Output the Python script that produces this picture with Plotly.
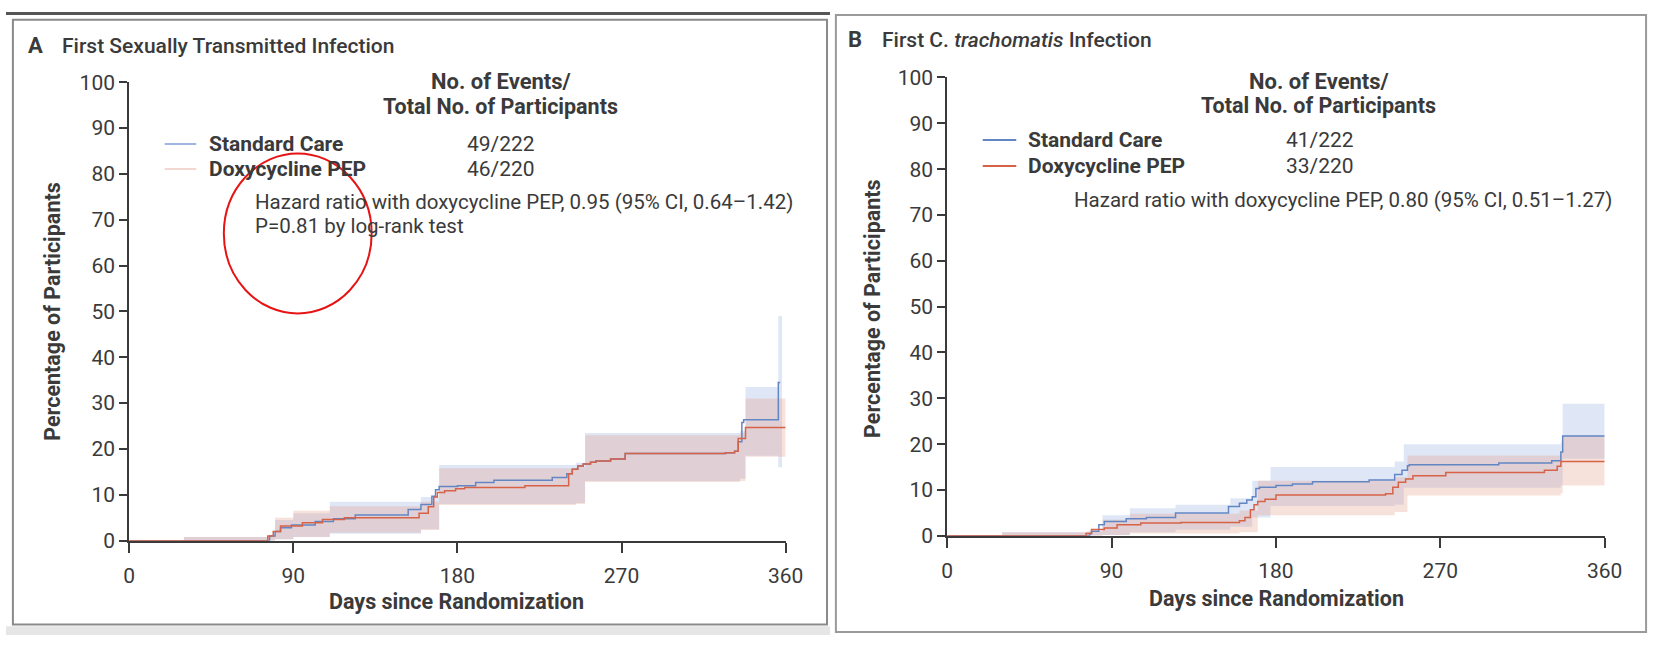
import plotly.graph_objects as go

W, H = 1669, 647

# ---------------- Panel A: first sexually transmitted infection ----------------
a_sc_days = [0, 77, 80, 83, 89, 102, 112, 124, 153, 160, 166, 168, 170, 180, 190, 200, 232, 240,
             243, 246, 249, 253, 256, 264, 272, 327, 332, 334, 336, 337, 356, 357]
a_sc_pct = [0, 1.0, 2.0, 2.8, 3.4, 4.2, 4.8, 5.6, 6.8, 7.9, 9.7, 11.1, 11.8, 12.0, 12.7, 13.2, 13.8, 14.6,
            15.6, 16.3, 16.7, 17.1, 17.4, 17.8, 19.0, 19.2, 19.5, 21.6, 25.8, 26.4, 34.5, 34.5]
a_dx_days = [0, 76, 79, 83, 95, 106, 118, 159, 164, 167, 169, 173, 179, 184, 217, 241, 243, 246,
             249, 253, 256, 264, 272, 327, 332, 334, 338, 360]
a_dx_pct = [0, 1.0, 2.0, 3.2, 3.9, 4.6, 5.0, 6.0, 7.4, 9.5, 10.5, 10.9, 11.3, 11.6, 12.0, 14.6, 15.6, 16.3,
            16.7, 17.1, 17.4, 17.8, 19.0, 19.2, 19.5, 22.3, 24.7, 24.7]

a_sc_band_days = [30, 76, 80, 90, 110, 160, 170, 245, 250, 335, 338, 356, 358]
a_sc_lo = [0, 0, 0.3, 0.8, 1.5, 2.5, 8.0, 8.2, 13.0, 13.5, 18.5, 16.0, 16.0]
a_sc_hi = [0.8, 1.0, 4.5, 6.0, 8.5, 9.5, 16.5, 17.0, 23.5, 24.0, 33.5, 49.0, 49.0]
a_dx_band_days = [30, 76, 80, 90, 110, 160, 170, 245, 250, 335, 338, 360]
a_dx_lo = [0, 0, 0.3, 0.8, 1.7, 2.3, 7.8, 8.0, 12.8, 13.0, 18.3, 18.3]
a_dx_hi = [0.8, 1.0, 5.0, 6.5, 7.5, 8.5, 15.8, 16.0, 23.0, 23.5, 31.0, 31.0]

# ---------------- Panel B: first C. trachomatis infection ----------------
b_sc_days = [0, 78, 79, 83, 86, 98, 109, 125, 154, 160, 164, 167, 169, 171, 180, 189, 200, 231,
             245, 249, 252, 253, 302, 331, 336, 337, 360]
b_sc_pct = [0, 0.5, 1.0, 2.4, 3.1, 3.7, 4.0, 5.0, 6.4, 7.1, 7.8, 8.5, 10.3, 10.6, 11.0, 11.3, 11.8, 12.2,
            13.4, 14.3, 15.3, 15.5, 15.9, 16.4, 18.3, 21.8, 21.8]
b_dx_days = [0, 76, 79, 86, 93, 106, 128, 160, 163, 166, 168, 170, 174, 180, 240, 244, 247, 251,
             255, 273, 327, 334, 336, 360]
b_dx_pct = [0, 0.5, 1.4, 1.7, 2.4, 2.8, 2.9, 3.3, 4.0, 5.7, 6.8, 7.5, 8.0, 8.9, 9.2, 10.6, 11.7, 12.4,
            13.1, 13.8, 14.3, 15.2, 16.2, 16.2]

b_sc_band_days = [30, 78, 85, 100, 125, 155, 167, 177, 245, 250, 336, 337, 360]
b_sc_lo = [0, 0, 0.2, 0.8, 1.3, 2.0, 4.0, 6.5, 6.8, 10.5, 11.0, 16.8, 16.8]
b_sc_hi = [0.8, 1.0, 4.5, 6.0, 6.8, 8.2, 12.0, 15.0, 16.2, 20.0, 20.5, 28.8, 28.8]
b_dx_band_days = [30, 76, 85, 100, 160, 170, 245, 252, 336, 337, 360]
b_dx_lo = [0, 0, 0.2, 0.5, 0.8, 4.5, 5.2, 8.8, 9.3, 11.0, 11.0]
b_dx_hi = [0.8, 1.0, 3.5, 4.8, 5.5, 12.0, 12.8, 17.5, 18.0, 21.8, 21.8]

x_ticks = [0, 90, 180, 270, 360]
y_ticks = list(range(0, 101, 10))

BLUE = "rgb(98,134,196)"
RED = "rgb(214,98,72)"
BLUE_BAND = "rgba(175,195,235,0.40)"
RED_BAND = "rgba(225,150,125,0.28)"
FONT = "Roboto"
INK = "#3a3a3a"


def px(x):
    return x / W


def py(y):
    return 1 - y / H


fig = go.Figure()


def add_panel(xa, ya, sc_days, sc_pct, dx_days, dx_pct,
              scb_days, sc_lo, sc_hi, dxb_days, dx_lo, dx_hi):
    common = dict(xaxis=xa, yaxis=ya, mode="lines", line_shape="hv", showlegend=False,
                  hoverinfo="skip")
    fig.add_trace(go.Scatter(x=scb_days, y=sc_lo, line=dict(width=0), **common))
    fig.add_trace(go.Scatter(x=scb_days, y=sc_hi, line=dict(width=0), fill="tonexty",
                             fillcolor=BLUE_BAND, **common))
    fig.add_trace(go.Scatter(x=dxb_days, y=dx_lo, line=dict(width=0), **common))
    fig.add_trace(go.Scatter(x=dxb_days, y=dx_hi, line=dict(width=0), fill="tonexty",
                             fillcolor=RED_BAND, **common))
    fig.add_trace(go.Scatter(x=sc_days, y=sc_pct, line=dict(color=BLUE, width=1.5), **common))
    fig.add_trace(go.Scatter(x=dx_days, y=dx_pct, line=dict(color=RED, width=1.5), **common))


add_panel("x", "y", a_sc_days, a_sc_pct, a_dx_days, a_dx_pct,
          a_sc_band_days, a_sc_lo, a_sc_hi, a_dx_band_days, a_dx_lo, a_dx_hi)
add_panel("x2", "y2", b_sc_days, b_sc_pct, b_dx_days, b_dx_pct,
          b_sc_band_days, b_sc_lo, b_sc_hi, b_dx_band_days, b_dx_lo, b_dx_hi)

xaxis_style = dict(range=[0, 360], tickvals=x_ticks, ticks="outside", ticklen=10, tickwidth=2,
                   tickcolor=INK, showline=True, linecolor=INK, linewidth=2, showgrid=False,
                   zeroline=False, ticklabelstandoff=5,
                   tickfont=dict(family=FONT, size=21, color=INK), fixedrange=True)
yaxis_style = dict(range=[0, 100], tickvals=y_ticks, ticks="outside", ticklen=8, tickwidth=2,
                   tickcolor=INK, showline=True, linecolor=INK, linewidth=2, showgrid=False,
                   zeroline=False, tickfont=dict(family=FONT, size=21, color=INK), fixedrange=True)

fig.update_layout(
    width=W, height=H,
    margin=dict(l=0, r=0, t=0, b=0),
    paper_bgcolor="white", plot_bgcolor="rgba(0,0,0,0)",
    xaxis=dict(domain=[px(125), px(791)], anchor="y", **xaxis_style),
    yaxis=dict(domain=[py(549), py(73)], anchor="x", **yaxis_style),
    xaxis2=dict(domain=[px(955), px(1622)], anchor="y2", **xaxis_style),
    yaxis2=dict(domain=[py(544), py(68)], anchor="x2", **yaxis_style),
)

annotations = []


def text(x, y, s, size=18, bold=False, anchor="left", angle=0, weight=None, color=INK):
    annotations.append(dict(
        x=px(x), y=py(y), xref="paper", yref="paper", text=s, showarrow=False,
        xanchor=anchor, yanchor="middle", textangle=angle,
        font=dict(family=FONT, size=size, color=color,
                  weight=weight if weight else (700 if bold else 400))))


# Panel A texts
text(20, 35, "A", size=22, weight=700)
text(55, 35, "First Sexually Transmitted Infection", size=21, weight=500)
text(502, 72, "No. of Events/", size=22, bold=True, anchor="center")
text(502, 98, "Total No. of Participants", size=21.5, bold=True, anchor="center")
text(204, 137, "Standard Care", size=21, bold=True)
text(204, 163, "Doxycycline PEP", size=21, bold=True)
text(502, 137, "49/222", size=21, anchor="center")
text(502, 163, "46/220", size=21, anchor="center")
text(251, 197, "Hazard ratio with doxycycline PEP, 0.95 (95% CI, 0.64\u20131.42)", size=20.5)
text(251, 222, "P=0.81 by log-rank test", size=20.5)
text(47, 311, "Percentage of Participants", size=21.5, bold=True, anchor="center", angle=-90)
text(457, 612, "Days since Randomization", size=21.5, bold=True, anchor="center")

# Panel B texts
text(852, 29, "B", size=22, weight=700)
text(887, 29, "First C. <i>trachomatis</i> Infection", size=21, weight=500)
text(1332, 72, "No. of Events/", size=22, bold=True, anchor="center")
text(1332, 97, "Total No. of Participants", size=21.5, bold=True, anchor="center")
text(1035, 133, "Standard Care", size=21, bold=True)
text(1035, 160, "Doxycycline PEP", size=21, bold=True)
text(1333, 133, "41/222", size=21, anchor="center")
text(1333, 160, "33/220", size=21, anchor="center")
text(1082, 195, "Hazard ratio with doxycycline PEP, 0.80 (95% CI, 0.51\u20131.27)", size=20.5)
text(879, 308, "Percentage of Participants", size=21.5, bold=True, anchor="center", angle=-90)
text(1289, 609, "Days since Randomization", size=21.5, bold=True, anchor="center")

fig.update_layout(annotations=annotations)

shapes = []


def pline(x0, y0, x1, y1, color, width):
    shapes.append(dict(type="line", xref="paper", yref="paper", x0=px(x0), y0=py(y0),
                       x1=px(x1), y1=py(y1), line=dict(color=color, width=width)))


def prect(x0, y0, x1, y1, line_color=None, width=0, fill=None):
    shapes.append(dict(type="rect", xref="paper", yref="paper", x0=px(x0), y0=py(y0),
                       x1=px(x1), y1=py(y1), line=dict(color=line_color or "rgba(0,0,0,0)", width=width),
                       fillcolor=fill or "rgba(0,0,0,0)", layer="below"))


# legend keys
pline(161, 137, 193, 137, "rgb(160,180,225)", 2)
pline(161, 163, 193, 163, "rgb(245,215,210)", 2)
pline(991, 133, 1025, 133, BLUE, 2)
pline(991, 160, 1025, 160, RED, 2)

# page frames
prect(0, 638, 836, 647, fill="#e6e6e6")
prect(0, 0, 836, 3, fill="#555555")
prect(7, 8, 833, 636, line_color="#8a8a8a", width=2)
prect(842, 3, 1664, 644, line_color="#9a9a9a", width=2)

# highlight ellipse
shapes.append(dict(type="circle", xref="paper", yref="paper",
                   x0=px(221), x1=px(371), y0=py(313), y1=py(147),
                   line=dict(color="rgb(230,20,20)", width=2)))

fig.update_layout(shapes=shapes)

fig.write_html("out.html")
